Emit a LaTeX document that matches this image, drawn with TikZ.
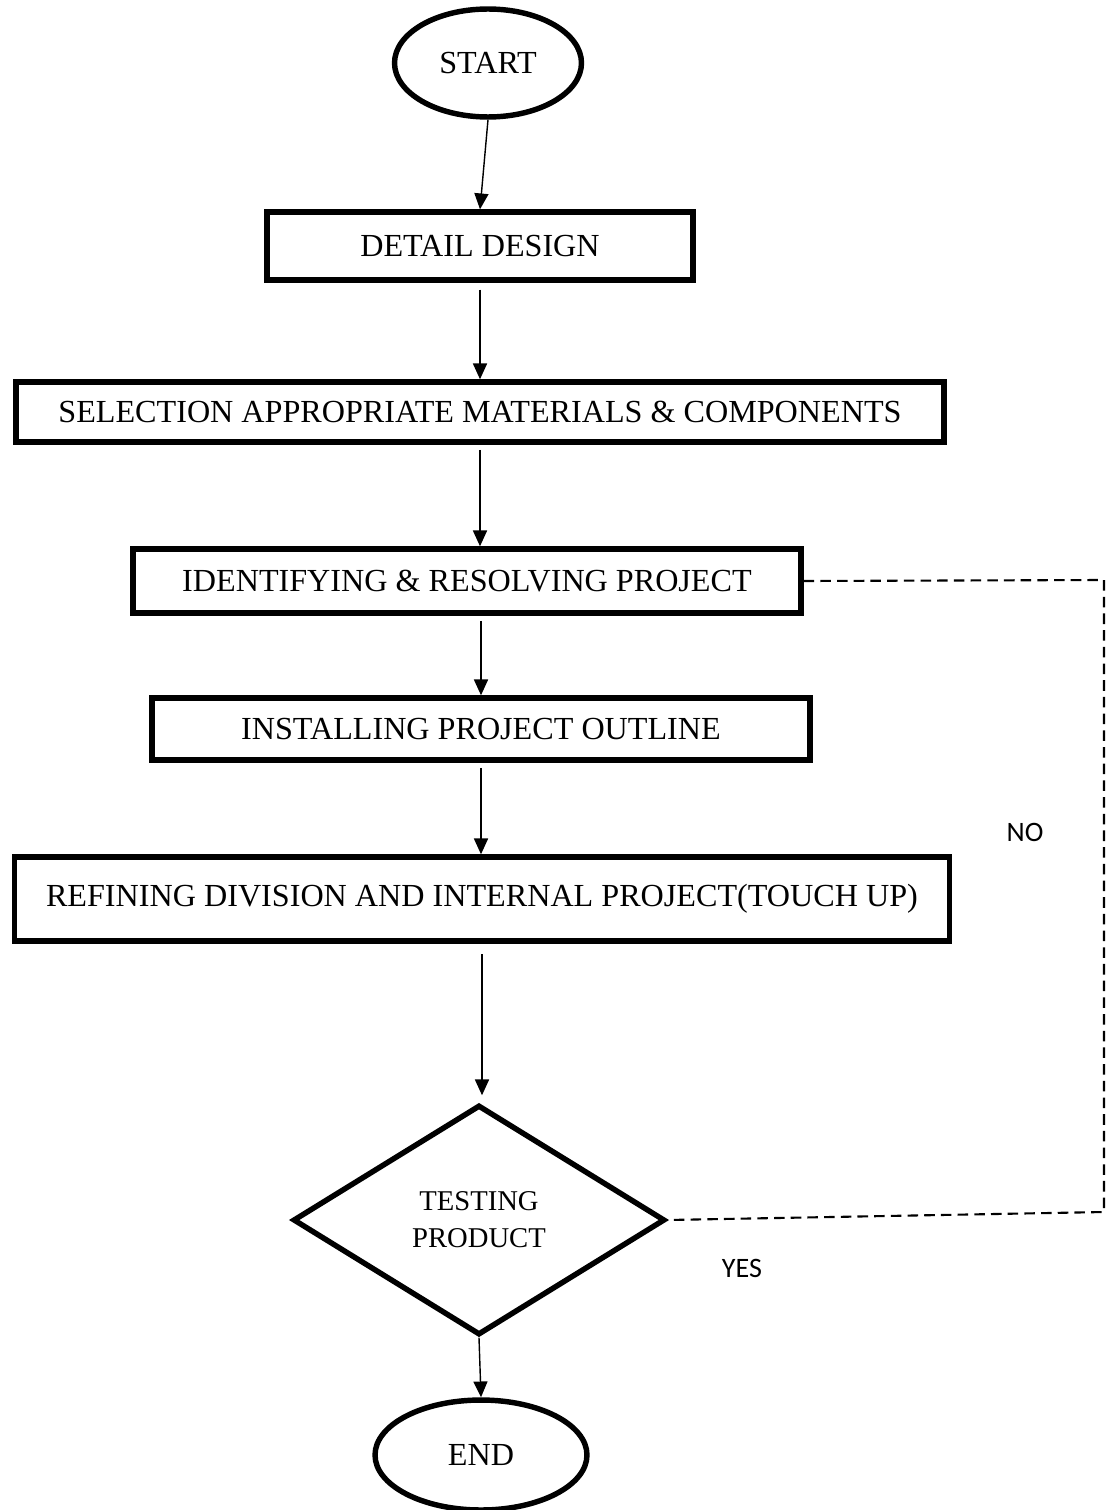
\documentclass[tikz,border=0pt]{standalone}
\usepackage{fontspec}
\setmainfont{Liberation Serif}
\newfontfamily\labelfont{Carlito}
\usepackage{tikz}
\usetikzlibrary{arrows.meta,shapes.geometric}

\begin{document}
\begin{tikzpicture}[x=0.02cm,y=-0.02cm,
    stepbox/.style={draw,rectangle,line width=3.1pt,inner sep=0pt,
        font=\fontsize{18.3}{21}\selectfont},
    termbox/.style={draw,ellipse,line width=3.1pt,inner sep=0pt,
        font=\fontsize{18.3}{21}\selectfont},
    arr/.style={line width=0.8pt,-{Triangle[length=9pt,width=8pt]}},
    loopline/.style={line width=1.2pt,dash pattern=on 6pt off 3.5pt}]
    \useasboundingbox (0,0) rectangle (1107,1510);
    % terminals
    \node[termbox,minimum width=3.74cm,minimum height=2.16cm] (start) at (488,63) {START};
    \node[termbox,minimum width=4.24cm,minimum height=2.2cm] (end) at (481,1455) {END};
    % process boxes
    \node[stepbox,minimum width=8.52cm,minimum height=1.36cm] (design) at (480,246) {DETAIL DESIGN};
    \node[stepbox,minimum width=18.56cm,minimum height=1.2cm] (select) at (480,412)
        {SELECTION APPROPRIATE MATERIALS \& COMPONENTS};
    \node[stepbox,minimum width=13.36cm,minimum height=1.28cm] (identify) at (467,581)
        {IDENTIFYING \& RESOLVING PROJECT};
    \node[stepbox,minimum width=13.16cm,minimum height=1.24cm] (install) at (481,729)
        {INSTALLING PROJECT OUTLINE};
    \node[stepbox,minimum width=18.7cm,minimum height=1.68cm] (refine) at (482,899)
        {REFINING DIVISION AND INTERNAL PROJECT(TOUCH UP)};
    % decision
    \node[draw,diamond,line width=3.1pt,inner sep=0pt,minimum width=7.44cm,minimum height=4.6cm,
        align=center,font=\fontsize{16.3}{21}\selectfont] (test) at (479,1220) {TESTING\\PRODUCT};
    % main flow
    \draw[arr] (start.south) -- (design.north);
    \draw[arr,shorten <=4pt] (design.south) -- (select.north);
    \draw[arr,shorten <=3pt] (select.south) -- (identify.north -| select.south);
    \draw[arr,shorten <=3pt] (identify.south -| install.north) -- (install.north);
    \draw[arr,shorten <=3pt] (install.south) -- (refine.north -| install.south);
    \draw[arr,shorten <=6pt,shorten >=4pt] (refine.south) -- (test.north -| refine.south);
    \draw[arr] (test.south) -- (end.north);
    % loop back (NO)
    \coordinate (loopTop) at (1104,580);
    \coordinate (loopBot) at (1104,1212);
    \draw[loopline] (identify.east) -- (loopTop) -- (loopBot) -- (test.east);
    \node[font=\labelfont\fontsize{16}{19}\selectfont] (no) at (1025,832) {NO};
    \node[font=\labelfont\fontsize{16}{19}\selectfont] (yes) at (742,1268) {YES};
\end{tikzpicture}
\end{document}
